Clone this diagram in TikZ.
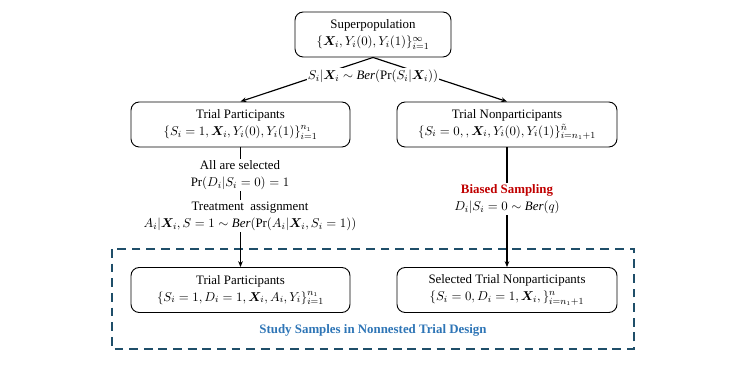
\documentclass[tikz,border=0pt]{standalone}
\usepackage{amsmath,amssymb,bm}
\usepackage{fontspec}
\setmainfont{Liberation Serif}
\usetikzlibrary{arrows.meta,positioning}
\definecolor{dashteal}{RGB}{31,78,105}
\definecolor{studyblue}{RGB}{46,117,182}
\definecolor{biasred}{RGB}{192,0,0}
\begin{document}
\begin{tikzpicture}[x=0.03cm, y=-0.03cm,
    every node/.style={font=\fontsize{11}{14.5}\selectfont},
    box/.style={draw, rounded corners=7pt, line width=0.8pt, align=center,
        minimum height=1.35cm, inner sep=2pt},
    lbl/.style={fill=white, align=center, inner sep=1pt},
    arr/.style={line width=1pt, -{Stealth[length=5pt, width=4pt]}}]
    \useasboundingbox (0,0) rectangle (747,374);
    % study samples frame
    \draw[dashteal, line width=1.5pt, dash pattern=on 7.5pt off 5pt] (112,249) rectangle (634,349);
    \node[font=\fontsize{11}{14.5}\selectfont\bfseries, text=studyblue] (study) at (373,330) {Study Samples in Nonnested Trial Design};
    % boxes
    \node[box, minimum width=4.68cm] (sup) at (373,34.5)
        {Superpopulation\\ $\{\bm{X}_i, Y_i(0), Y_i(1)\}_{i=1}^{\infty}$};
    \node[box, minimum width=6.57cm] (tp) at (240.5,124.5)
        {Trial Participants\\ $\{S_i = 1, \bm{X}_i, Y_i(0), Y_i(1)\}_{i=1}^{n_1}$};
    \node[box, minimum width=6.6cm] (tn) at (507,124.5)
        {Trial Nonparticipants\\ $\{S_i = 0,, \bm{X}_i, Y_i(0), Y_i(1)\}_{i=n_1+1}^{\tilde{n}}$};
    \node[box, minimum width=6.57cm] (btp) at (240.5,290)
        {Trial Participants\\ $\{S_i = 1, D_i = 1, \bm{X}_i, A_i, Y_i\}_{i=1}^{n_1}$};
    \node[box, minimum width=6.6cm] (btn) at (507,290)
        {Selected Trial Nonparticipants\\ $\{S_i = 0, D_i = 1, \bm{X}_i,\}_{i=n_1+1}^{n}$};
    % connectors
    \draw[arr] (sup.south) -- (tp.north);
    \draw[arr] (sup.south) -- (tn.north);
    \draw[arr] (tp) -- (btp);
    \draw[arr] (tn) -- (btn);
    % labels on connectors
    \node[lbl] (sel) at (373,76) {$S_i|\bm{X}_i \sim \mathit{Ber}(\Pr(S_i|\bm{X}_i))$};
    \node[lbl] (all) at (240,175) {All are selected\\ $\Pr(D_i|S_i = 0) = 1$};
    \node[lbl] (trt) at (250,216) {Treatment\ \ assignment\\ $A_i|\bm{X}_i, S = 1 \sim \mathit{Ber}(\Pr(A_i|\bm{X}_i, S_i = 1))$};
    \node[lbl] (bias) at (507,199) {\textcolor{biasred}{\bfseries Biased Sampling}\\ $D_i|S_i = 0 \sim \mathit{Ber}(q)$};
\end{tikzpicture}
\end{document}
